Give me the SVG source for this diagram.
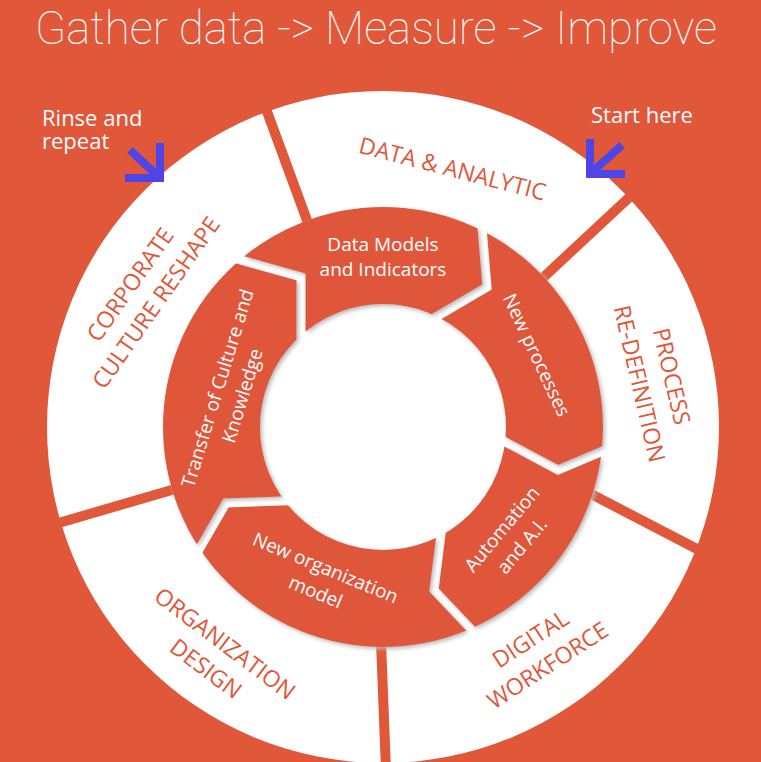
<svg xmlns="http://www.w3.org/2000/svg" width="761" height="762" viewBox="0 0 761 762">
<defs>
<style>
.ttl{font-family:Roboto,"Open Sans",sans-serif;font-weight:100;fill:#fff}
.note{font-family:"Open Sans","Noto Sans",sans-serif;font-size:22px;fill:#fff}
.lbl{font-family:"Open Sans","Noto Sans",sans-serif;font-size:23px;fill:#E0573A;text-anchor:middle}
.in{font-family:"Open Sans","Noto Sans",sans-serif;font-size:19px;fill:#fff;text-anchor:middle}
.sep{stroke:#E0573A;stroke-width:10;fill:none}
.arrow{fill:none;stroke:#4F45E6;stroke-width:8;stroke-linejoin:miter}
</style>
<filter id="sh" filterUnits="userSpaceOnUse" x="0" y="0" width="761" height="762">
<feGaussianBlur in="SourceAlpha" stdDeviation="2"/>
<feOffset dx="1.5" dy="1.5" result="b"/>
<feFlood flood-color="#b9b9b9"/>
<feComposite in2="b" operator="in"/>
<feMerge><feMergeNode/><feMergeNode in="SourceGraphic"/></feMerge>
</filter>
<mask id="gaps" maskUnits="userSpaceOnUse" x="0" y="0" width="761" height="762">
<rect width="761" height="762" fill="#fff"/>
<g fill="none" stroke="#000" stroke-width="9" stroke-linejoin="miter" stroke-miterlimit="10">
<polyline points="479.5,198 487,287 412,331"/>
<polyline points="624,442 558,470 485,431"/>
<polyline points="487,646 434,590 444,510"/>
<polyline points="187.5,569.6 226,503 310,500"/>
<polyline points="216,253 301,277 301,358"/>
</g>
</mask>
</defs>

<rect width="761" height="762" fill="#E0573A"/>

<text class="ttl" x="35" y="44" font-size="46" textLength="682" lengthAdjust="spacingAndGlyphs">Gather data -&gt; Measure -&gt; Improve</text>

<g id="outer-ring">
<circle cx="383" cy="427" r="336" fill="#fff"/>
</g>

<g id="connectors">
<line class="sep" x1="308.8" y1="225.3" x2="262.3" y2="98.7"/>
<line class="sep" x1="540.2" y1="280.4" x2="638.9" y2="188.3"/>
<line class="sep" x1="588" y1="492.4" x2="722" y2="562"/>
<line class="sep" x1="381" y1="642" x2="386" y2="770"/>
<line class="sep" x1="38" y1="529" x2="182" y2="487"/>
</g>

<g id="inner-ring" filter="url(#sh)">
<g mask="url(#gaps)">
<circle cx="383" cy="427" r="171.5" fill="none" stroke="#E0573A" stroke-width="97"/>
</g>
</g>

<g id="node-data-analytic">
<text class="lbl" transform="translate(450.5,176.5) rotate(14.5)">DATA &amp; ANALYTIC</text>
</g>
<g id="node-process" transform="translate(656,380) rotate(77)">
<text class="lbl" y="-8">PROCESS</text>
<text class="lbl" y="25">RE-DEFINITION</text>
</g>
<g id="node-digital" transform="translate(539,652) rotate(-33)">
<text class="lbl" y="-7.5">DIGITAL</text>
<text class="lbl" y="24">WORKFORCE</text>
</g>
<g id="node-organization" transform="translate(215.5,656) rotate(37)">
<text class="lbl" y="-7.5">ORGANIZATION</text>
<text class="lbl" y="24">DESIGN</text>
</g>
<g id="node-corporate" transform="translate(143,293.5) rotate(-55)">
<text class="lbl" y="-7.5">CORPORATE</text>
<text class="lbl" y="24">CULTURE RESHAPE</text>
</g>

<g id="node-data-models">
<text class="in" x="383" y="251">Data Models</text>
<text class="in" x="383" y="276">and Indicators</text>
</g>
<g id="node-new-processes" transform="translate(536.5,355) rotate(65)">
<text class="in" y="6.5">New processes</text>
</g>
<g id="node-automation" transform="translate(512,537.5) rotate(-50)">
<text class="in" y="-6.5">Automation</text>
<text class="in" y="19.5">and A.I.</text>
</g>
<g id="node-new-org" transform="translate(320.5,580) rotate(22.5)">
<text class="in" y="-6.5">New organization</text>
<text class="in" y="19.5">model</text>
</g>
<g id="node-transfer" transform="translate(230,392) rotate(-73)">
<text class="in" y="-6.5" font-size="18.5">Transfer of Culture and</text>
<text class="in" y="19.5" font-size="18.5">Knowledge</text>
</g>

<g id="note-rinse">
<text class="note" x="42" y="126">Rinse and</text>
<text class="note" x="42" y="148.5">repeat</text>
<path class="arrow" d="M130,150 L160,178 M160,143 V178 H125"/>
</g>
<g id="note-start">
<text class="note" x="591" y="123">Start here</text>
<path class="arrow" d="M622,145 L590,174 M590,139 V174 H625"/>
</g>
</svg>
